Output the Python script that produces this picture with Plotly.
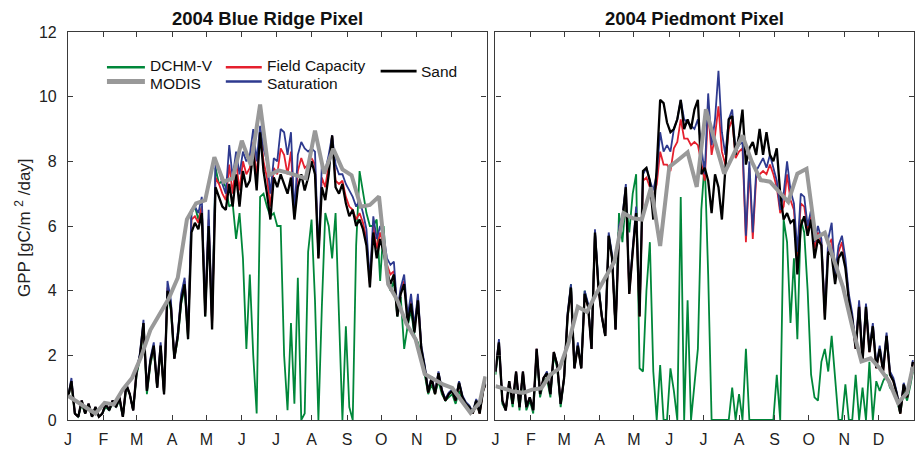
import plotly.graph_objects as go

# ---------------- data ----------------
DAYS = list(range(1, 365, 3)) + [366]          # sampled day-of-year
MODIS_DAYS = list(range(1, 362, 8)) + [366]    # 8-day MODIS composites

MONTH_START = [1, 32, 61, 92, 122, 153, 183, 214, 245, 275, 306, 336]
MONTH_LABELS = ["J", "F", "M", "A", "M", "J", "J", "A", "S", "O", "N", "D"]
Y_TICKS = [0, 2, 4, 6, 8, 10, 12]

# ---- Blue Ridge pixel ----
BR_SAND = [0.7, 1.2, 0.2, 0.1, 0.6, 0.2, 0.5, 0.1, 0.4, 0.1,
           0.2, 0.5, 0.3, 0.6, 0.4, 0.7, 0.1, 1.1, 0.8, 0.3,
           1.5, 2.0, 3.0, 0.9, 1.8, 2.3, 1.0, 2.3, 0.8, 4.0,
           3.5, 1.9, 2.6, 3.7, 4.2, 2.5, 5.8, 6.1, 5.9, 6.4,
           3.2, 6.0, 2.8, 7.2, 6.9, 6.6, 6.5, 7.3, 6.6, 7.6,
           6.6, 7.7, 7.2, 7.4, 8.3, 7.1, 8.9, 7.7, 7.0, 6.2,
           7.5, 7.2, 7.6, 7.3, 7.0, 7.5, 6.2, 7.2, 7.6, 7.1,
           7.5, 8.0, 7.6, 5.0, 7.2, 6.8, 7.6, 8.8, 7.2, 7.0,
           7.3, 6.7, 6.3, 6.5, 6.0, 6.2, 5.9, 5.4, 4.1, 5.8,
           5.0, 5.6, 5.2, 4.6, 4.2, 4.5, 3.2, 3.9, 4.2, 3.0,
           3.6, 2.7, 3.7, 2.2, 1.6, 0.85, 1.3, 0.8, 1.45, 0.9,
           0.6, 0.8, 0.9, 0.6, 1.15, 0.7, 0.5, 0.4, 0.2, 0.6,
           0.2, 0.9, 1.1]
BR_FC = [0.7, 1.2, 0.2, 0.1, 0.6, 0.2, 0.5, 0.1, 0.4, 0.1,
         0.2, 0.5, 0.3, 0.6, 0.4, 0.7, 0.1, 1.1, 0.8, 0.3,
         1.5, 2.0, 3.0, 0.9, 1.8, 2.3, 1.0, 2.3, 0.8, 4.1,
         3.6, 1.9, 2.6, 3.8, 4.3, 2.6, 6.2, 6.3, 6.1, 6.6,
         3.3, 6.2, 2.9, 7.5, 7.3, 7.0, 6.8, 7.9, 7.0, 8.0,
         7.1, 8.0, 7.6, 7.8, 8.6, 7.5, 9.0, 8.0, 7.5, 6.6,
         7.8, 7.6, 8.4, 8.2, 7.6, 8.3, 6.3, 7.7, 8.1, 7.8,
         7.9, 8.1, 7.9, 5.0, 7.5, 7.2, 7.9, 8.8, 7.4, 7.3,
         7.4, 6.9, 6.6, 6.5, 6.2, 6.4, 6.1, 5.6, 4.2, 6.0,
         5.3, 5.8, 5.4, 4.8, 4.5, 4.6, 3.3, 4.0, 4.3, 3.1,
         3.7, 2.8, 3.8, 2.2, 1.6, 0.85, 1.3, 0.8, 1.45, 0.9,
         0.6, 0.8, 0.9, 0.6, 1.15, 0.7, 0.5, 0.4, 0.2, 0.6,
         0.2, 0.9, 1.1]
BR_SAT = [0.7, 1.3, 0.2, 0.1, 0.6, 0.2, 0.5, 0.1, 0.4, 0.1,
          0.2, 0.5, 0.3, 0.6, 0.4, 0.7, 0.1, 1.1, 0.8, 0.3,
          1.5, 2.1, 3.1, 0.9, 1.9, 2.4, 1.0, 2.4, 0.8, 4.3,
          3.7, 1.9, 2.7, 3.9, 4.4, 2.7, 6.5, 6.6, 6.4, 6.9,
          3.4, 6.5, 3.0, 7.9, 7.8, 7.3, 7.0, 8.5, 7.5, 8.3,
          7.6, 8.3, 8.0, 8.2, 9.0, 8.0, 9.1, 8.4, 8.0, 7.0,
          8.1, 8.0, 9.0, 8.9, 8.2, 8.9, 6.4, 8.2, 8.6, 8.4,
          8.3, 8.4, 8.3, 5.1, 7.9, 7.7, 8.2, 8.8, 7.9, 7.6,
          7.6, 7.3, 7.1, 6.9, 6.6, 6.8, 6.4, 5.9, 4.3, 6.3,
          5.6, 6.0, 5.7, 5.0, 4.8, 4.9, 3.4, 4.1, 4.5, 3.2,
          3.9, 2.9, 3.9, 2.3, 1.7, 0.9, 1.35, 0.85, 1.5, 0.95,
          0.65, 0.85, 0.95, 0.65, 1.2, 0.75, 0.55, 0.45, 0.25, 0.65,
          0.25, 0.95, 1.15]
BR_DCHM = [0.7, 1.1, 0.2, 0.1, 0.5, 0.2, 0.5, 0.1, 0.4, 0.1,
           0.2, 0.4, 0.3, 0.5, 0.4, 0.6, 0.1, 1.0, 0.8, 0.3,
           1.4, 1.9, 2.9, 0.8, 1.7, 2.2, 1.0, 2.2, 0.8, 3.9,
           3.4, 1.9, 2.5, 3.6, 4.1, 2.5, 6.4, 6.6, 6.2, 6.6,
           3.2, 6.0, 3.0, 7.8, 7.3, 7.4, 7.2, 6.6, 6.7, 5.6,
           6.4, 5.0, 2.2, 4.5, 2.0, 0.2, 6.9, 7.0, 6.6, 6.3,
           6.4, 6.0, 6.0, 2.0, 0.3, 3.0, 0.5, 4.4, 0.0, 0.2,
           5.2, 6.2, 3.7, 0.0, 3.5, 6.4, 6.0, 5.0, 6.4, 3.0,
           0.0, 2.9, 0.4, 0.0, 5.4, 7.7, 7.0, 6.4, 6.0, 6.0,
           6.2, 4.3, 6.0, 4.4, 4.0, 4.3, 3.2, 3.8, 2.2, 2.9,
           3.4, 2.6, 2.4, 2.0, 1.4, 0.8, 1.1, 0.8, 1.2, 0.8,
           0.6, 0.7, 0.8, 0.5, 0.9, 0.6, 0.5, 0.4, 0.2, 0.6,
           0.2, 0.9, 1.1]
BR_MODIS = [0.75, 0.55, 0.38, 0.2, 0.53, 0.48, 0.95, 1.3, 1.96, 2.78,
            3.29, 3.75, 4.4, 6.2, 6.7, 6.8, 8.13, 7.37, 7.47, 8.64,
            7.88, 9.76, 7.57, 7.72, 7.65, 7.55, 7.47, 8.95, 7.62, 8.39,
            7.75, 7.57, 6.6, 6.65, 6.91, 4.2, 3.7, 2.98, 2.5, 1.42,
            1.25, 1.1, 0.99, 0.6, 0.22, 0.53, 1.35]

# ---- Piedmont pixel ----
PD_SAND = [1.5, 2.4, 0.6, 0.3, 1.2, 0.5, 1.5, 0.4, 1.5, 0.4,
           0.7, 0.3, 2.2, 0.8, 1.3, 1.45, 0.8, 2.1, 1.7, 0.5,
           1.3, 3.2, 4.1, 1.6, 2.3, 1.6, 3.9, 3.5, 2.2, 5.8,
           4.1, 3.2, 2.6, 5.7, 5.0, 2.8, 5.8, 6.2, 7.2, 3.9,
           5.2, 6.4, 3.2, 7.7, 7.8, 7.4, 6.2, 7.8, 9.9, 9.8,
           9.2, 8.9, 9.0, 9.3, 9.9, 9.0, 9.3, 9.0, 9.6, 9.9,
           7.6, 7.8, 7.4, 6.4, 7.6, 7.2, 6.2, 7.8, 9.3, 9.4,
           8.2, 8.8, 9.6, 7.9, 8.4, 8.6, 8.2, 9.0, 8.2, 8.9,
           8.2, 8.0, 8.4, 7.0, 6.2, 6.4, 6.1, 6.2, 4.5, 6.0,
           6.3, 5.7, 6.2, 5.0, 5.6, 5.4, 3.1, 5.2, 5.1, 4.2,
           5.0, 5.2, 4.7, 3.7, 3.1, 2.2, 3.5, 1.8, 3.5, 2.1,
           2.9, 1.6, 2.2, 1.5, 2.6, 1.4, 1.2, 0.8, 0.2, 1.1,
           0.7, 1.3, 1.8]
PD_FC = [1.5, 2.4, 0.6, 0.3, 1.2, 0.5, 1.5, 0.4, 1.5, 0.4,
         0.7, 0.3, 2.2, 0.8, 1.3, 1.45, 0.8, 2.1, 1.7, 0.5,
         1.3, 3.2, 4.1, 1.6, 2.3, 1.6, 3.9, 3.5, 2.2, 5.8,
         4.1, 3.2, 2.6, 5.7, 5.0, 2.8, 5.9, 6.2, 7.2, 3.9,
         5.2, 6.4, 3.2, 7.4, 7.5, 7.2, 6.9, 7.3, 8.3, 7.9,
         7.9, 7.7, 8.4, 8.6, 9.3, 8.7, 8.7, 8.5, 8.6, 8.5,
         8.0, 7.4, 9.6, 8.2, 8.8, 9.7, 8.3, 7.9, 9.0, 9.3,
         8.1, 8.3, 8.4, 5.5, 7.8, 5.6, 7.5, 7.6, 7.7, 7.6,
         7.9, 7.6, 7.2, 6.4, 6.6, 7.6, 6.8, 6.5, 5.0, 6.7,
         6.6, 5.9, 6.3, 5.3, 5.8, 5.5, 3.2, 5.4, 5.6, 4.3,
         5.2, 5.5, 4.8, 3.8, 3.2, 2.2, 3.6, 1.8, 3.5, 2.1,
         2.9, 1.6, 2.2, 1.5, 2.6, 1.4, 1.2, 0.8, 0.2, 1.1,
         0.7, 1.3, 1.8]
PD_SAT = [1.5, 2.5, 0.6, 0.3, 1.2, 0.5, 1.5, 0.4, 1.5, 0.4,
          0.7, 0.3, 2.2, 0.8, 1.3, 1.5, 0.8, 2.1, 1.7, 0.5,
          1.3, 3.3, 4.2, 1.6, 2.4, 1.6, 4.0, 3.6, 2.2, 5.9,
          4.2, 3.2, 2.6, 5.8, 5.1, 2.8, 6.0, 6.3, 7.3, 4.0,
          5.3, 6.6, 3.3, 7.6, 7.8, 7.4, 7.1, 7.6, 8.9, 8.3,
          8.5, 8.3, 9.0, 9.3, 9.9, 9.3, 9.2, 9.1, 9.0, 9.3,
          8.4, 7.6, 10.1, 8.5, 9.3, 10.8, 8.9, 8.2, 9.3, 9.6,
          8.3, 8.5, 8.6, 5.7, 8.0, 5.8, 7.7, 7.9, 8.1, 7.8,
          8.2, 7.8, 7.4, 6.5, 7.0, 8.0, 7.1, 6.7, 5.2, 7.0,
          6.9, 6.0, 6.5, 5.5, 6.0, 5.6, 3.3, 5.6, 6.1, 4.5,
          5.4, 5.7, 5.0, 3.9, 3.3, 2.3, 3.7, 1.9, 3.6, 2.2,
          3.0, 1.7, 2.3, 1.6, 2.7, 1.5, 1.3, 0.85, 0.25, 1.15,
          0.75, 1.35, 1.85]
PD_DCHM = [1.4, 2.3, 0.5, 0.3, 1.1, 0.4, 1.4, 0.3, 1.4, 0.3,
           0.6, 0.2, 2.1, 0.7, 1.2, 1.3, 0.7, 2.0, 1.6, 0.4,
           1.3, 3.1, 4.2, 1.6, 2.3, 1.6, 4.0, 3.5, 2.3, 5.8,
           4.2, 3.2, 2.6, 5.7, 5.0, 2.8, 6.4, 5.5, 6.8, 5.8,
           7.0, 7.6, 1.6, 1.5, 4.0, 5.5, 1.5, 0.0, 1.7, 0.0,
           0.0, 1.6, 0.9, 0.0, 6.9, 0.0, 3.7, 0.0, 1.1, 2.2,
           6.5, 8.0, 4.5, 0.0, 0.0, 0.0, 0.0, 0.0, 0.0, 1.0,
           0.0, 0.8, 0.0, 2.2, 0.0, 0.0, 0.0, 0.0, 0.0, 0.0,
           0.0, 0.0, 1.4, 0.0, 6.2, 5.5, 3.0, 5.0, 2.5, 6.2,
           5.8, 4.0, 1.4, 0.7, 0.6, 1.8, 2.2, 1.5, 2.6, 1.2,
           0.0, 0.0, 1.1, 0.0, 0.0, 1.4, 0.0, 1.0, 0.0, 1.8,
           0.0, 1.2, 0.9, 1.2, 1.4, 1.0, 0.9, 0.6, 0.2, 0.9,
           0.6, 1.1, 1.5]
PD_MODIS = [1.05, 0.95, 0.88, 0.84, 0.94, 0.98, 1.4, 1.6, 2.4, 3.5,
            3.34, 3.9, 4.4, 4.9, 6.4, 6.24, 6.2, 7.2, 5.38, 7.83,
            8.05, 8.28, 7.21, 9.61, 8.6, 7.62, 8.2, 8.8, 8.0, 7.42,
            7.37, 7.05, 6.75, 7.62, 7.77, 5.63, 5.79, 4.95, 4.1, 2.88,
            1.81, 1.91, 1.6, 1.2, 0.53, 0.84, 1.65]

PANELS = [
    ("2004 Blue Ridge Pixel", BR_DCHM, BR_FC, BR_SAT, BR_SAND, BR_MODIS),
    ("2004 Piedmont Pixel", PD_DCHM, PD_FC, PD_SAT, PD_SAND, PD_MODIS),
]

# ---------------- style ----------------
FONT = "Liberation Sans, Arial, Helvetica, sans-serif"
C_GREEN = "#00873A"
C_RED = "#E5202E"
C_BLUE = "#2E3A8F"
C_BLACK = "#000000"
C_GRAY = "#999999"
AXIS_COL = "#3a3a3a"

W, H = 917, 450
ML, MR, MT, MB = 68, 2, 32, 26
PW, PH = W - ML - MR, H - MT - MB


def px(xp):
    return (xp - ML) / PW


def py(yp):
    return (H - MB - yp) / PH


fig = go.Figure()

for i, (title, dchm, fc, sat, sand, modis) in enumerate(PANELS):
    xa = "x" if i == 0 else "x2"
    ya = "y" if i == 0 else "y2"
    fig.add_trace(go.Scatter(x=DAYS, y=dchm, mode="lines", xaxis=xa, yaxis=ya,
                             line=dict(color=C_GREEN, width=1.8), name="DCHM-V"))
    fig.add_trace(go.Scatter(x=DAYS, y=fc, mode="lines", xaxis=xa, yaxis=ya,
                             line=dict(color=C_RED, width=1.8), name="Field Capacity"))
    fig.add_trace(go.Scatter(x=DAYS, y=sat, mode="lines", xaxis=xa, yaxis=ya,
                             line=dict(color=C_BLUE, width=1.8), name="Saturation"))
    fig.add_trace(go.Scatter(x=DAYS, y=sand, mode="lines", xaxis=xa, yaxis=ya,
                             line=dict(color=C_BLACK, width=2.3), name="Sand"))
    fig.add_trace(go.Scatter(x=MODIS_DAYS, y=modis, mode="lines", xaxis=xa, yaxis=ya,
                             line=dict(color=C_GRAY, width=4), name="MODIS"))

axis_common = dict(showline=True, linecolor=AXIS_COL, linewidth=1.2, mirror="ticks",
                   ticks="inside", ticklen=5, tickwidth=1, tickcolor=AXIS_COL,
                   showgrid=False, zeroline=False,
                   tickfont=dict(family=FONT, size=16, color="#222222"))

dom_split = (487 - ML) / PW
dom_right = (496 - ML) / PW

fig.update_layout(
    width=W, height=H,
    margin=dict(l=ML, r=MR, t=MT, b=MB, pad=0),
    paper_bgcolor="white", plot_bgcolor="white",
    showlegend=False,
    font=dict(family=FONT, size=16, color="#222222"),
    xaxis=dict(domain=[0, dom_split], range=[1, 367], tickvals=MONTH_START,
               ticktext=MONTH_LABELS, anchor="y", ticklabelstandoff=5, **axis_common),
    yaxis=dict(domain=[0, 1], range=[0, 12], tickvals=Y_TICKS, anchor="x",
               ticklabelstandoff=7, **axis_common),
    xaxis2=dict(domain=[dom_right, 1], range=[1, 367], tickvals=MONTH_START,
                ticktext=MONTH_LABELS, anchor="y2", ticklabelstandoff=5, **axis_common),
    yaxis2=dict(domain=[0, 1], range=[0, 12], tickvals=Y_TICKS, anchor="x2",
                showticklabels=False, **axis_common),
)

# titles
for title, cx in [(PANELS[0][0], 267.5), (PANELS[1][0], 695.5)]:
    fig.add_annotation(text="<b>%s</b>" % title, x=px(cx), y=py(18), xref="paper", yref="paper",
                       showarrow=False, xanchor="center", yanchor="middle", borderpad=0,
                       font=dict(family=FONT, size=18.5, color="#111111"))

# y label
fig.add_annotation(text="GPP [gC/m&nbsp;<sup>2</sup>&nbsp;/day]", x=px(23), y=py(230),
                   xref="paper", yref="paper", borderpad=0,
                   showarrow=False, textangle=-90, xanchor="center", yanchor="middle",
                   font=dict(family=FONT, size=17, color="#222222"))

# manual legend (inside left panel): (label, colour, width, line x0, line x1, line y, text x, text y)
legend_items = [
    ("DCHM-V", C_GREEN, 2.5, 107, 145, 67.5, 149, 65.5),
    ("MODIS", C_GRAY, 5, 107, 145, 82, 149, 84),
    ("Field Capacity", C_RED, 2.5, 226, 262, 67.5, 266, 65.5),
    ("Saturation", C_BLUE, 2.5, 226, 262, 82, 266, 84),
    ("Sand", C_BLACK, 2.7, 381, 417, 71.5, 420, 71.5),
]
for label, col, lw, x0, x1, yy, tx, ty in legend_items:
    fig.add_shape(type="line", xref="paper", yref="paper", x0=px(x0), x1=px(x1),
                  y0=py(yy), y1=py(yy), line=dict(color=col, width=lw))
    fig.add_annotation(text=label, x=px(tx), y=py(ty), xref="paper", yref="paper",
                       showarrow=False, xanchor="left", yanchor="middle", borderpad=0,
                       font=dict(family=FONT, size=15.5, color="#111111"))

fig.write_html("out.html")
